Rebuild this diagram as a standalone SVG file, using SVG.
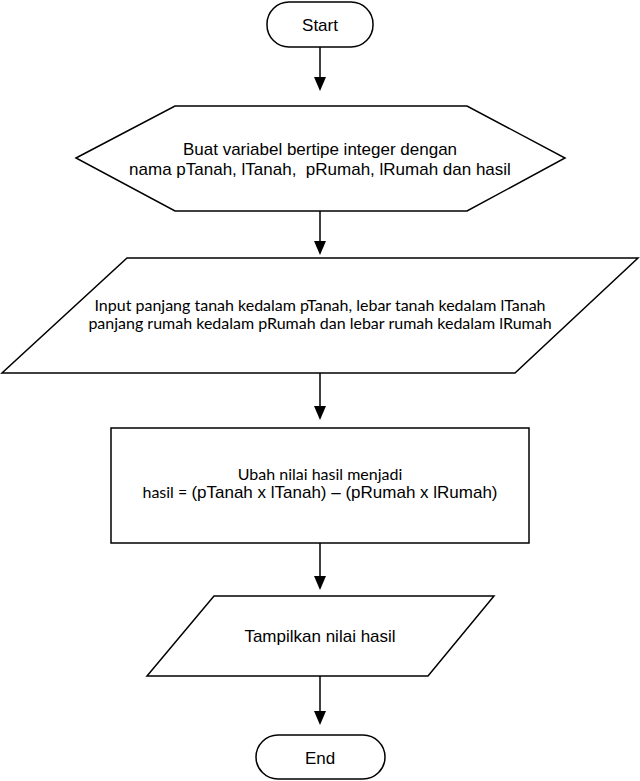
<svg xmlns="http://www.w3.org/2000/svg" width="640" height="781" viewBox="0 0 640 781">
<style>
.s{fill:#fff;stroke:#000;stroke-width:1.5}
.t{font-family:"Liberation Sans",Arial,sans-serif;font-size:17px;fill:#000;text-anchor:middle}
.l{font-family:Lato,"Liberation Sans",sans-serif;font-size:16px;fill:#000;text-anchor:middle}
.ln{stroke:#000;stroke-width:1.5}
</style>
<g id="start">
<rect class="s" x="267" y="2" width="106" height="45" rx="22" ry="22"/>
<text class="t" x="320" y="31" font-size="18">Start</text>
</g>
<g id="declare">
<polygon class="s" points="76,158 175,106 467,106 565,158 467,211 175,211"/>
<text class="t" x="320" y="155">Buat variabel bertipe integer dengan</text>
<text class="t" x="320" y="175" xml:space="preserve">nama pTanah, lTanah,  pRumah, lRumah dan hasil</text>
</g>
<g id="input">
<polygon class="s" points="127,258 638,258 515,373 2,373"/>
<text class="l" x="320" y="311" font-size="15.6">Input panjang tanah kedalam pTanah, lebar tanah kedalam lTanah</text>
<text class="l" x="320" y="329" font-size="15.6">panjang rumah kedalam pRumah dan lebar rumah kedalam lRumah</text>
</g>
<g id="process">
<rect class="s" x="111" y="428" width="418" height="115"/>
<text class="l" x="320" y="480">Ubah nilai hasil menjadi</text>
<text class="t" x="320" y="498" font-size="15.1"><tspan font-family="Lato,'Liberation Sans',sans-serif" font-size="16">hasil = </tspan>(pTanah x lTanah) – (pRumah x lRumah)</text>
</g>
<g id="output">
<polygon class="s" points="214,596 494,596 428,676 147,676"/>
<text class="t" x="320" y="642">Tampilkan nilai hasil</text>
</g>
<g id="end">
<rect class="s" x="256" y="735" width="129" height="44" rx="22" ry="22"/>
<text class="t" x="320" y="764" font-size="18">End</text>
</g>
<g id="connectors">
<line class="ln" x1="320" y1="47" x2="320" y2="80"/>
<polygon points="314,77 326,77 320,91"/>
<line class="ln" x1="320" y1="211" x2="320" y2="244"/>
<polygon points="314,241 326,241 320,255"/>
<line class="ln" x1="320" y1="373" x2="320" y2="409"/>
<polygon points="314,406 326,406 320,420"/>
<line class="ln" x1="320" y1="543" x2="320" y2="579"/>
<polygon points="314,576 326,576 320,590"/>
<line class="ln" x1="320" y1="676" x2="320" y2="714"/>
<polygon points="314,711 326,711 320,725"/>
</g>
</svg>
